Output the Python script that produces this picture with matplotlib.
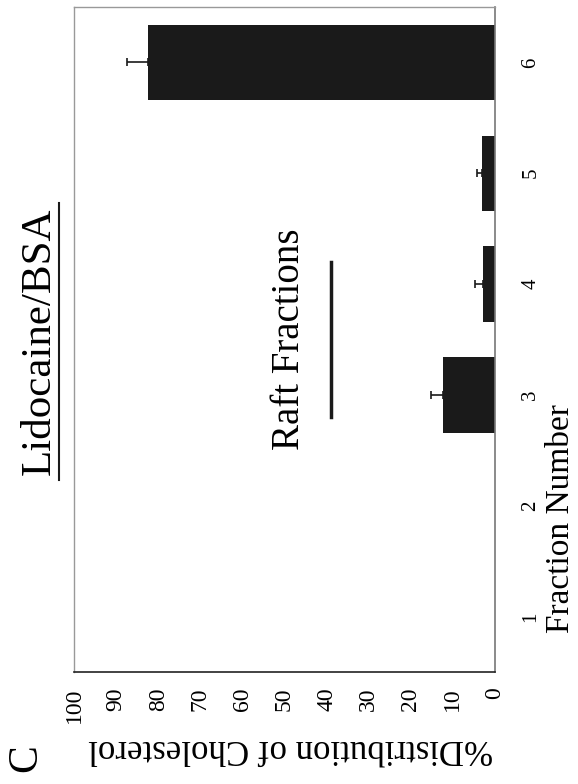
import numpy as np
import matplotlib.pyplot as plt
from matplotlib.lines import Line2D

plt.rcParams['font.family'] = ['Liberation Serif', 'DejaVu Serif']

fractions = [1, 2, 3, 4, 5, 6]
cholesterol = [0.0, 0.0, 12.3, 2.9, 3.1, 82.4]
errors = [0.0, 0.0, 3.0, 1.9, 1.2, 5.0]
value_ticks = [0, 10, 20, 30, 40, 50, 60, 70, 80, 90, 100]

fig = plt.figure(figsize=(5.78, 7.84), dpi=100)
ax = fig.add_axes([74/578, 1 - 672/784, (495 - 74)/578, (672 - 7)/784])

# the whole panel is turned 90 degrees, so bars run right-to-left
ax.barh(fractions, cholesterol, height=0.68, color='#1a1a1a', linewidth=0)
f = np.array(fractions)
c = np.array(cholesterol)
e = np.array(errors)
has_err = e > 0
ax.errorbar(c[has_err], f[has_err], xerr=[np.zeros(has_err.sum()), e[has_err]],
            fmt='none', ecolor='#1a1a1a', elinewidth=1.2, capsize=3, capthick=1.2)

ax.set_xlim(100, 0)
ax.set_ylim(0.5, 6.5)
ax.set_xticks(value_ticks)
ax.set_xticklabels([str(v) for v in value_ticks], rotation=90, fontsize=17)
ax.set_yticks(fractions)
ax.set_yticklabels([str(v) for v in fractions], rotation=90, fontsize=15,
                   va='center')
ax.yaxis.tick_right()
ax.tick_params(axis='x', length=0, pad=11)
ax.tick_params(axis='y', length=0, pad=19)

for side in ['left', 'top']:
    ax.spines[side].set_color('#999999')
    ax.spines[side].set_linewidth(1.0)
ax.spines['right'].set_color('#777777')
ax.spines['right'].set_linewidth(1.2)
ax.spines['bottom'].set_color('#222222')
ax.spines['bottom'].set_linewidth(1.2)

# raft fractions marker
ax.text(48.7, 3.5, 'Raft Fractions', rotation=90, fontsize=28,
        ha='center', va='center')
ax.plot([39, 39], [2.8, 4.2], color='#1a1a1a', linewidth=2.5)

# labels
fig.text(291/578, 1 - 749/784, '%Distribution of Cholesterol', rotation=180,
         fontsize=25, ha='center', va='center')
fig.text(561/578, 1 - 519/784, 'Fraction Number', rotation=90,
         fontsize=24, ha='center', va='center')
fig.text(40/578, 1 - 341/784, 'Lidocaine/BSA', rotation=90,
         fontsize=31, ha='center', va='center')
fig.add_artist(Line2D([59/578, 59/578], [1 - 203/784, 1 - 480/784],
                      color='#1a1a1a', linewidth=1.5))
fig.text(26/578, 1 - 758/784, 'C', rotation=90, fontsize=30,
         ha='center', va='center')

fig.savefig('out.png', dpi=100)
